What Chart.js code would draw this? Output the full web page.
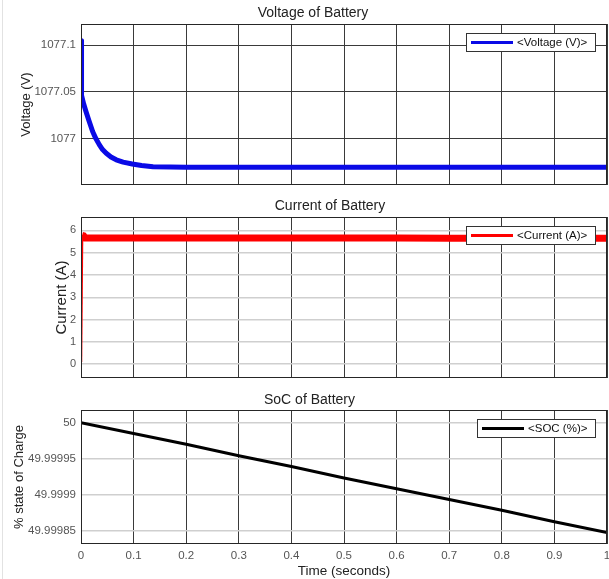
<!DOCTYPE html>
<html><head><meta charset="utf-8">
<script src="https://cdn.jsdelivr.net/npm/chart.js@4.4.1/dist/chart.umd.min.js"></script>
<style>
html,body{margin:0;padding:0;background:#fff;}
#wrap{position:relative;width:609px;height:579px;overflow:hidden;background:#fff;}
canvas{position:absolute;left:0;}
#edge{position:absolute;left:2px;top:0;width:1px;height:579px;background:#e2e2e2;}
</style></head><body>
<div id="wrap">
<div id="edge"></div>
<canvas id="c1" style="top:0px" width="609" height="190"></canvas>
<canvas id="c2" style="top:190px" width="609" height="190"></canvas>
<canvas id="c3" style="top:380px" width="609" height="199"></canvas>
</div>
<script>
// ---- data ----
const timeTicks = [0, 0.1, 0.2, 0.3, 0.4, 0.5, 0.6, 0.7, 0.8, 0.9, 1];
const voltageTicks = [1077, 1077.05, 1077.1];
const currentTicks = [0, 1, 2, 3, 4, 5, 6];
const socTicks = [49.99985, 49.9999, 49.99995, 50];

const voltageTime   = [0, 0.001, 0.005, 0.0096, 0.015, 0.0223, 0.028, 0.035, 0.041, 0.048, 0.057, 0.067, 0.08, 0.0975, 0.115, 0.137, 0.17, 0.2, 0.3, 0.4, 0.5, 0.6, 0.7, 0.8, 0.9, 1.0];
const voltageValues = [1077.1045, 1077.046, 1077.037, 1077.0285, 1077.019, 1077.007, 1077.0, 1076.993, 1076.988, 1076.984, 1076.980, 1076.977, 1076.9745, 1076.9725, 1076.9708, 1076.9696, 1076.9692, 1076.969, 1076.969, 1076.969, 1076.969, 1076.969, 1076.969, 1076.969, 1076.969, 1076.969];

const currentTime   = [0, 0.002, 0.005, 0.008, 0.1, 0.2, 0.3, 0.4, 0.5, 0.6, 0.7, 0.8, 0.9, 1.0];
const currentValues = [0.1, 5.78, 5.76, 5.66, 5.66, 5.66, 5.66, 5.66, 5.66, 5.66, 5.65, 5.65, 5.65, 5.65];

const socTime   = [0, 0.1, 0.2, 0.3, 0.4, 0.5, 0.6, 0.7, 0.8, 0.9, 1.0];
const socValues = [50, 49.999985, 49.99997, 49.999954, 49.999939, 49.999923, 49.999908, 49.999893, 49.999878, 49.999862, 49.999847];

// ---- rendering ----
const FONT = "'Liberation Sans', Arial, sans-serif";
Chart.defaults.font.family = FONT;

const pts = (xs, ys) => xs.map((x, i) => ({x: x, y: ys[i]}));
const fmt = v => String(Number(v.toFixed(6)));

const framePlugin = {
  id: 'frame',
  afterDraw(chart) {
    const ctx = chart.ctx, a = chart.chartArea;
    ctx.save();
    ctx.strokeStyle = '#262626'; ctx.lineWidth = 1;
    ctx.strokeRect(Math.round(a.left) + 0.5, Math.round(a.top) + 0.5, Math.round(a.right - a.left) - 1, Math.round(a.bottom - a.top) - 1);
    const ds = chart.data.datasets[0];
    ctx.font = '11.5px ' + FONT;
    const tw = ctx.measureText(ds.label).width;
    const padL = 5, padR = 8, lineLen = 42, gap = 4, h = 18;
    const w = Math.round(padL + lineLen + gap + tw + padR);
    const x1 = Math.round(a.right - 12 - w), y1 = Math.round(a.top + 9);
    ctx.fillStyle = '#fff'; ctx.fillRect(x1, y1, w, h);
    ctx.strokeStyle = '#333'; ctx.lineWidth = 1;
    ctx.strokeRect(x1 + 0.5, y1 + 0.5, w, h);
    ctx.strokeStyle = ds.borderColor; ctx.lineWidth = 3;
    ctx.beginPath(); ctx.moveTo(x1 + padL, y1 + h / 2 + 0.5); ctx.lineTo(x1 + padL + lineLen, y1 + h / 2 + 0.5); ctx.stroke();
    ctx.fillStyle = '#111'; ctx.textBaseline = 'middle'; ctx.textAlign = 'left';
    ctx.fillText(ds.label, x1 + padL + lineLen + gap, y1 + h / 2 + 1);
    ctx.restore();
  }
};

function xScale(showLabels) {
  return {
    type: 'linear', min: 0, max: 1,
    afterBuildTicks: s => { s.ticks = timeTicks.map(v => ({value: v})); },
    afterFit: s => { s.paddingLeft = 0; s.paddingRight = 0; },
    grid: { color: '#3a3a3a', lineWidth: 1, drawTicks: false },
    border: { display: false },
    ticks: { display: showLabels, padding: 5, color: '#555', font: {size: 11.5}, callback: v => fmt(v), maxRotation: 0, autoSkip: false },
    title: { display: showLabels, text: 'Time (seconds)', color: '#222', font: {size: 13.5}, padding: {top: -5, bottom: 0} }
  };
}
function yScale(min, max, ticks, title, titleSize, tickSize, width, gridColor, gridWidth) {
  return {
    type: 'linear', min: min, max: max,
    afterBuildTicks: s => { s.ticks = ticks.map(v => ({value: v})); },
    afterFit: s => { s.width = width; s.paddingTop = 0; s.paddingBottom = 0; },
    grid: { color: gridColor, lineWidth: gridWidth, drawTicks: false },
    border: { display: false },
    ticks: { padding: 5, color: '#555', font: {size: tickSize}, callback: v => fmt(v) },
    title: { display: true, text: title, color: '#222', font: {size: titleSize}, padding: {top: 0, bottom: 0} }
  };
}
function titleOpt(text, bottom) {
  return { display: true, text: text, color: '#222', font: {size: 14, weight: 'normal'}, padding: {top: 0, bottom: bottom} };
}

new Chart(document.getElementById('c1'), {
  type: 'line',
  data: { datasets: [{ label: '<Voltage (V)>', data: pts(voltageTime, voltageValues), borderColor: '#0a0ae6', borderWidth: 5, pointRadius: 0, tension: 0, borderJoinStyle: 'round', fill: false }] },
  options: {
    responsive: false, animation: false,
    layout: { padding: { left: 19, right: 2, top: 5, bottom: 5 } },
    plugins: { legend: {display: false}, tooltip: {enabled: false}, title: titleOpt('Voltage of Battery', 2.2) },
    scales: { x: xScale(false), y: yScale(1076.95, 1077.1225, voltageTicks, 'Voltage (V)', 13, 11.5, 62, '#3a3a3a', 1) }
  },
  plugins: [framePlugin]
});

new Chart(document.getElementById('c2'), {
  type: 'line',
  data: { datasets: [{ label: '<Current (A)>', data: pts(currentTime, currentValues), borderColor: '#ff0000', borderWidth: 7, pointRadius: 0, fill: false,
    segment: { borderWidth: c => c.p0DataIndex === 0 ? 2.5 : 7 } }] },
  options: {
    responsive: false, animation: false,
    layout: { padding: { left: 53, right: 2, top: 8, bottom: 2 } },
    plugins: { legend: {display: false}, tooltip: {enabled: false}, title: titleOpt('Current of Battery', 2.2) },
    scales: { x: xScale(false), y: yScale(-0.62, 6.6, currentTicks, 'Current (A)', 15, 11, 28, '#cfcfcf', 1.5) }
  },
  plugins: [framePlugin]
});

new Chart(document.getElementById('c3'), {
  type: 'line',
  data: { datasets: [{ label: '<SOC (%)>', data: pts(socTime, socValues), borderColor: '#000000', borderWidth: 3, pointRadius: 0, fill: false }] },
  options: {
    responsive: false, animation: false,
    layout: { padding: { left: 12, right: 2, top: 11.5, bottom: 0 } },
    plugins: { legend: {display: false}, tooltip: {enabled: false}, title: titleOpt('SoC of Battery', 1.7) },
    scales: { x: xScale(true), y: yScale(49.999831, 50.0000177, socTicks, '% state of Charge', 13, 11.5, 69, '#cfcfcf', 1.5) }
  },
  plugins: [framePlugin]
});
</script>
</body></html>
